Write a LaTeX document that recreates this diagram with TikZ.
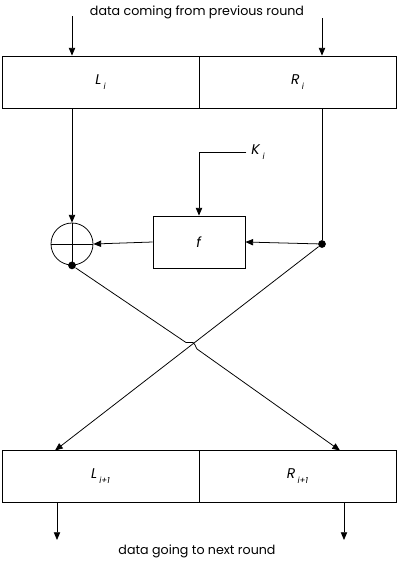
\documentclass[tikz,border=0pt]{standalone}
\usepackage{fontspec}
\setmainfont{Poppins}
\usetikzlibrary{calc,arrows.meta}

\newcommand{\blk}[2]{{\fontsize{10}{12}\selectfont\textit{#1}}\,\raisebox{-0.7ex}{\fontsize{6}{7}\selectfont\itshape #2}}

\begin{document}
\begin{tikzpicture}[x=0.025cm,y=-0.025cm,font=\fontsize{9}{11}\selectfont,line width=0.55pt,
    >={Triangle[length=5.5pt,width=4.5pt]}]
    \useasboundingbox (0,0) rectangle (400,562);
    \tikzset{halfbox/.style={draw,inner sep=0pt,minimum width=4.925cm,minimum height=1.3cm},
             dot/.style={circle,fill,inner sep=0pt,minimum size=5.5pt}}
    % round input
    \node (top) at (197,12) {data coming from previous round};
    \node[halfbox] (Li) at (100.5,82) {\blk{L}{i}};
    \node[halfbox] (Ri) at (297.5,82) {\blk{R}{i}};
    \coordinate (inL) at (72,16);
    \coordinate (inR) at (322,18);
    \draw[->] (inL)--(inL |- Li.north);
    \draw[->] (inR)--(inR |- Ri.north);
    % round function
    \node[draw,circle,inner sep=0pt,minimum size=1.05cm] (xor) at (72,244) {};
    \draw (xor.north)--(xor.south) (xor.west)--(xor.east);
    \node[draw,inner sep=0pt,minimum width=2.3cm,minimum height=1.3cm] (f) at (199,242) {\fontsize{10}{12}\selectfont\textit{f}};
    \node[dot] (dotR) at (322,244) {};
    \node[dot] (dotL) at (xor.south) {};
    \node (Ki) at (258,152) {\blk{K}{i}};
    \draw[->] (Li.south -| xor)--(xor.north);
    \draw (Ri.south -| dotR)--(dotR);
    \draw[->] (dotR)--(f.east);
    \draw[->] (f.west)--(xor.east);
    \draw[->] (Ki.west)-|(f.north);
    % swap
    \node[halfbox] (Li1) at (100.5,476.5) {\blk{L}{i+1}};
    \node[halfbox] (Ri1) at (297.5,476.5) {\blk{R}{i+1}};
    \coordinate (toL) at (55,450.5);
    \coordinate (toR) at (340,450.5);
    \coordinate (hopA) at (186,342.5);
    \coordinate (hopB) at (193,342.5);
    \draw[->] (dotR)--(toL);
    \draw[->] (dotL)--(hopA)--(hopB) .. controls (195,343) and (195,346) .. (197,349)--(toR);
    % round output
    \coordinate (outL) at (57,540);
    \coordinate (outR) at (344,540);
    \draw[->] (Li1.south -| outL)--(outL);
    \draw[->] (Ri1.south -| outR)--(outR);
    \node (bot) at (197,551) {data going to next round};
  \end{tikzpicture}
\end{document}
